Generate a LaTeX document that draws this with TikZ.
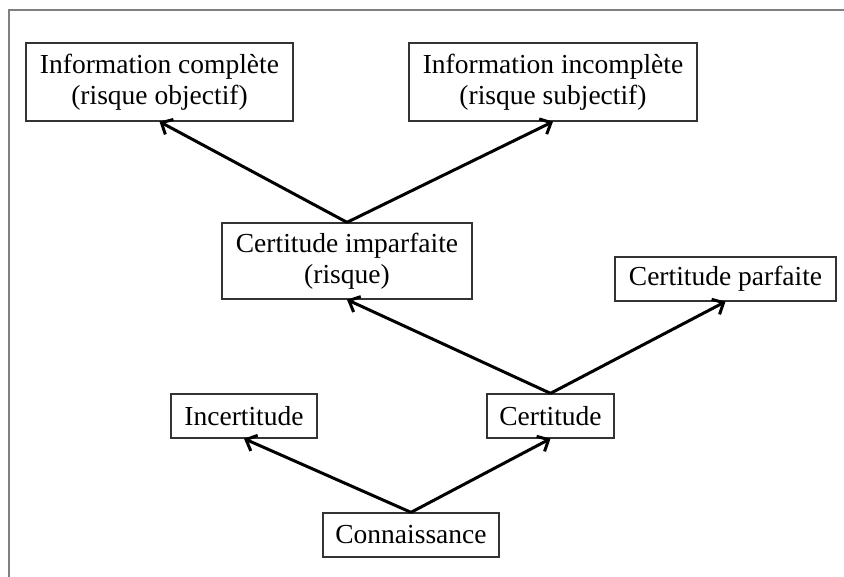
\documentclass[tikz,border=0pt]{standalone}
\usepackage{fontspec}
\setmainfont{Liberation Serif}
\usetikzlibrary{arrows.meta}
\tikzset{
  box/.style={draw=black!80, line width=1.3pt, fill=white, inner sep=0pt, align=center,
    font=\fontsize{27.5}{31}\selectfont},
  link/.style={line width=3pt, -{Straight Barb[length=9pt,width=17pt,line width=3pt]}},
  frame/.style={draw=black!50, line width=2pt}
}
\begin{document}
\begin{tikzpicture}[x=1pt,y=-1pt]
\useasboundingbox (0,0) rectangle (844,577);
\draw[frame] (9,577) -- (9,10) -- (844,10);
\node[box, minimum width=267pt, minimum height=78pt] (ic) at (159.5,82) {Information complète\\(risque objectif)};
\node[box, minimum width=288pt, minimum height=78pt] (ii) at (553,82) {Information incomplète\\(risque subjectif)};
\node[box, minimum width=250pt, minimum height=76pt] (cim) at (347,261) {Certitude imparfaite\\(risque)};
\node[box, minimum width=221pt, minimum height=44pt] (cp) at (725.5,279) {Certitude parfaite};
\node[box, minimum width=146pt, minimum height=44pt] (inc) at (244,416) {Incertitude};
\node[box, minimum width=127pt, minimum height=44pt] (cer) at (550.5,416) {Certitude};
\node[box, minimum width=176pt, minimum height=44pt] (con) at (411,535) {Connaissance};
\draw[link] (con.north) -- (inc.south);
\draw[link] (con.north) -- (cer.south);
\draw[link] (cer.north) -- (cim.south);
\draw[link] (cer.north) -- (cp.south);
\draw[link] (cim.north) -- (ic.south);
\draw[link] (cim.north) -- (ii.south);
\end{tikzpicture}
\end{document}
